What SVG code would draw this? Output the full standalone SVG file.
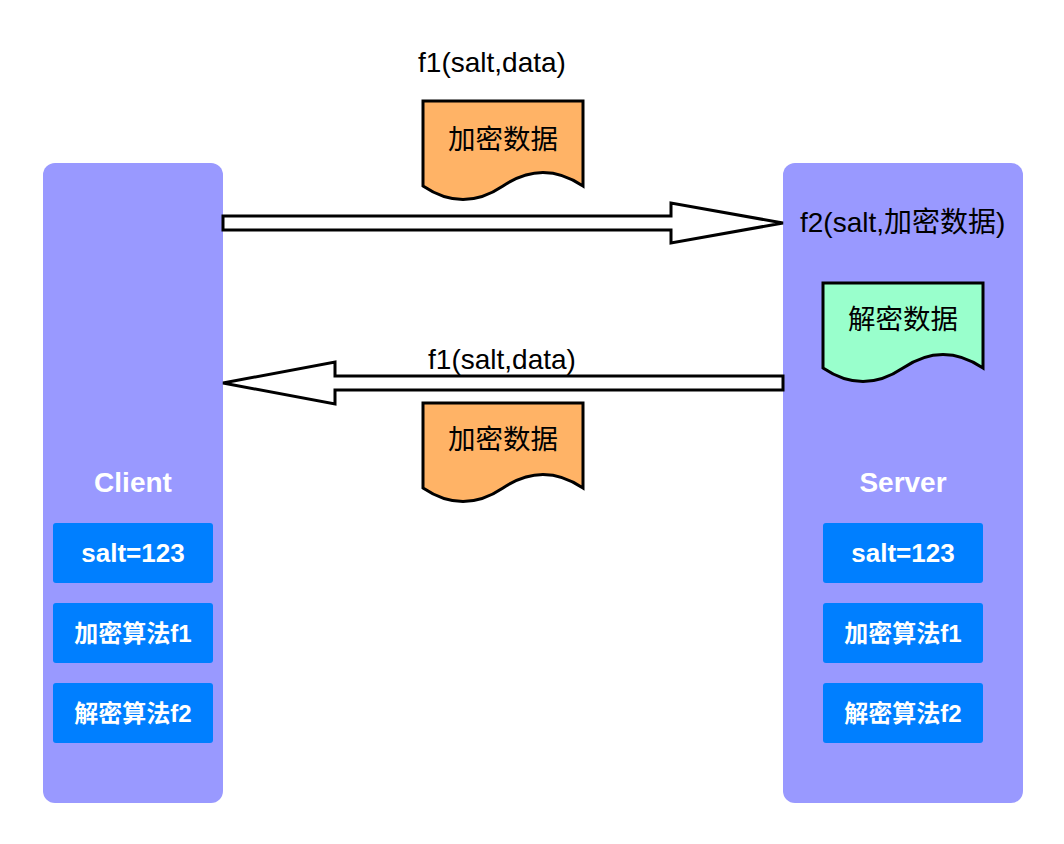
<svg xmlns="http://www.w3.org/2000/svg" width="1064" height="844" viewBox="0 0 1064 844">
<style>
.panel{fill:#9999FF}
.box{fill:#007FFF}
.ptitle{font-family:"Liberation Sans",Arial,sans-serif;font-weight:bold;font-size:28px;fill:#fff;text-anchor:middle}
.btxt{font-family:"Liberation Sans",Arial,"Noto Sans CJK SC",sans-serif;font-weight:bold;font-size:24px;fill:#fff;text-anchor:middle}
.bnum{font-size:26px}
.lbl{font-family:"Liberation Sans",Arial,"Noto Sans CJK SC",sans-serif;font-size:28px;fill:#000}
.doc{stroke:#000;stroke-width:3;stroke-linejoin:miter}
.dtxt{font-family:"Liberation Sans",Arial,"Noto Sans CJK SC",sans-serif;font-size:27.5px;fill:#000;text-anchor:middle}
.arrow{fill:#fff;stroke:#000;stroke-width:3;stroke-linejoin:miter}
</style>
<rect width="1064" height="844" fill="#fff"/>
<g id="client">
<rect class="panel" x="43" y="163" width="180" height="640" rx="12"/>
<text class="ptitle" x="133" y="492">Client</text>
</g>
<g id="client-salt"><rect class="box" x="53" y="523" width="160" height="60" rx="3"/><text class="btxt bnum" x="133" y="562">salt=123</text></g>
<g id="client-f1"><rect class="box" x="53" y="603" width="160" height="60" rx="3"/><text class="btxt" x="133" y="642">加密算法f1</text></g>
<g id="client-f2"><rect class="box" x="53" y="683" width="160" height="60" rx="3"/><text class="btxt" x="133" y="722">解密算法f2</text></g>
<g id="server">
<rect class="panel" x="783" y="163" width="240" height="640" rx="12"/>
<text class="ptitle" x="903" y="492">Server</text>
</g>
<g id="server-salt"><rect class="box" x="823" y="523" width="160" height="60" rx="3"/><text class="btxt bnum" x="903" y="562">salt=123</text></g>
<g id="server-f1"><rect class="box" x="823" y="603" width="160" height="60" rx="3"/><text class="btxt" x="903" y="642">加密算法f1</text></g>
<g id="server-f2"><rect class="box" x="823" y="683" width="160" height="60" rx="3"/><text class="btxt" x="903" y="722">解密算法f2</text></g>
<g id="doc-top">
<path class="doc" fill="#FFB366" d="M423,101 L583,101 L583,186 Q543,159 503,186 Q463,213 423,186 Z"/>
<text class="dtxt" x="503" y="149">加密数据</text>
</g>
<g id="doc-green">
<path class="doc" fill="#99FFCC" d="M823,283 L983,283 L983,368 Q943,341 903,368 Q863,395 823,368 Z"/>
<text class="dtxt" x="903" y="329">解密数据</text>
</g>
<g id="doc-bottom">
<path class="doc" fill="#FFB366" d="M423,403 L583,403 L583,488 Q543,461 503,488 Q463,515 423,488 Z"/>
<text class="dtxt" x="503" y="449">加密数据</text>
</g>
<g id="connectors">
<polygon class="arrow" points="223,216 671,216 671,203 783,223 671,243 671,230 223,230"/>
<polygon class="arrow" points="783,376 335,376 335,362 223,383 335,404 335,390 783,390"/>
</g>
<g id="labels">
<text class="lbl" x="492" y="72" text-anchor="middle">f1(salt,data)</text>
<text class="lbl" x="502" y="369" text-anchor="middle">f1(salt,data)</text>
<text class="lbl" x="800" y="232">f2(salt,加密数据)</text>
</g>
</svg>
